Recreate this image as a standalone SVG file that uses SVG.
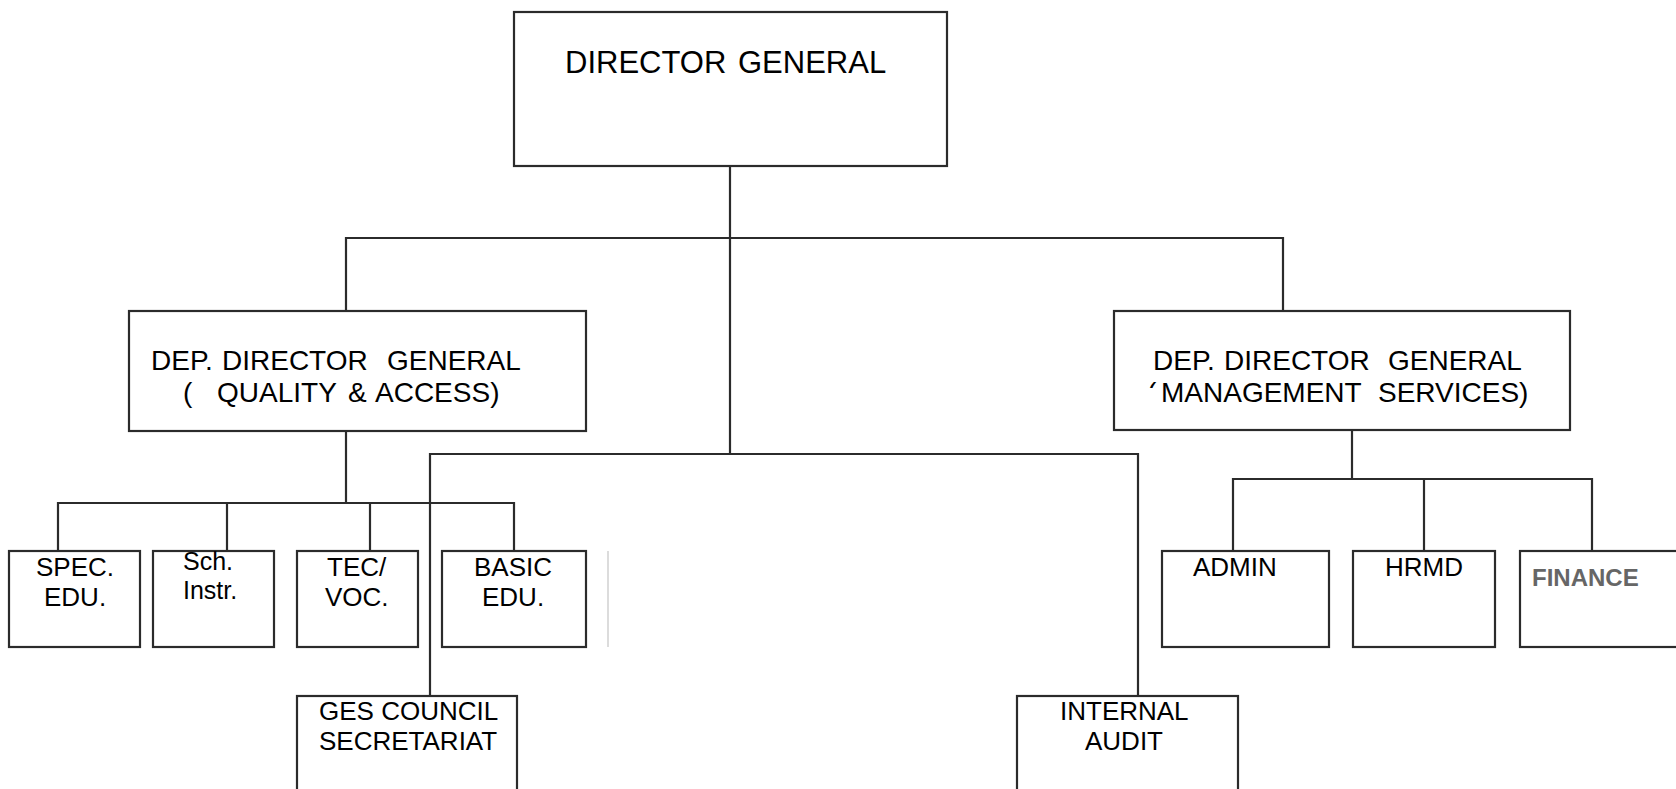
<svg xmlns="http://www.w3.org/2000/svg" width="1676" height="789" viewBox="0 0 1676 789">
<style>
.box{fill:#fff;stroke:#2b2b2b;stroke-width:2.2}
.ln{fill:none;stroke:#2b2b2b;stroke-width:2.2}
.t{font-family:"Liberation Sans",Arial,sans-serif;fill:#000}
.t31{font-size:31px}
.t28{font-size:28px}
.t26{font-size:26px}
.t25{font-size:25px}
.fin{font-family:"Liberation Sans",Arial,sans-serif;font-size:24px;font-weight:bold;fill:#666}
</style>
<defs>
<clipPath id="clipParen"><rect x="1140" y="376" width="20" height="12"/></clipPath>
</defs>
<rect width="1676" height="789" fill="#fff"/>
<g id="connectors">
<path class="ln" d="M730 166V454"/>
<path class="ln" d="M346 310V238H1283V310"/>
<path class="ln" d="M346 431V503"/>
<path class="ln" d="M58 551V503H514V551"/>
<path class="ln" d="M227 503V551"/>
<path class="ln" d="M370 503V551"/>
<path class="ln" d="M430 696V454H1138V696"/>
<path class="ln" d="M1352 431V479"/>
<path class="ln" d="M1233 551V479H1592V551"/>
<path class="ln" d="M1424 479V551"/>
<path d="M608 551V647" stroke="#d0d0d0" stroke-width="1.5"/>
</g>
<g id="dg">
<rect class="box" x="514" y="12" width="433" height="154"/>
<text class="t t31" y="73"><tspan x="565">DIRECTOR</tspan><tspan x="738">GENERAL</tspan></text>
</g>
<g id="ddg-qa">
<rect class="box" x="129" y="311" width="457" height="120"/>
<text class="t t28" y="370"><tspan x="151">DEP.</tspan><tspan x="222">DIRECTOR</tspan><tspan x="387">GENERAL</tspan></text>
<text class="t t28" y="402"><tspan x="183">(</tspan><tspan x="217">QUALITY</tspan><tspan x="348">&amp;</tspan><tspan x="375">ACCESS)</tspan></text>
</g>
<g id="ddg-ms">
<rect class="box" x="1114" y="311" width="456" height="119"/>
<text class="t t28" y="370"><tspan x="1153">DEP.</tspan><tspan x="1224">DIRECTOR</tspan><tspan x="1388">GENERAL</tspan></text>
<text class="t t28" x="1147" y="402" clip-path="url(#clipParen)">(</text>
<text class="t t28" y="402"><tspan x="1161">MANAGEMENT</tspan><tspan x="1378">SERVICES)</tspan></text>
</g>
<g id="spec-edu">
<rect class="box" x="9" y="551" width="131" height="96"/>
<text class="t t26" x="36" y="576">SPEC.</text>
<text class="t t26" x="44" y="606">EDU.</text>
</g>
<g id="sch-instr">
<rect class="box" x="153" y="551" width="121" height="96"/>
<text class="t t25" x="183" y="570">Sch.</text>
<text class="t t25" x="183" y="599">Instr.</text>
</g>
<g id="tec-voc">
<rect class="box" x="297" y="551" width="121" height="96"/>
<text class="t t26" x="327" y="576">TEC/</text>
<text class="t t26" x="325" y="606">VOC.</text>
</g>
<g id="basic-edu">
<rect class="box" x="442" y="551" width="144" height="96"/>
<text class="t t26" x="474" y="576">BASIC</text>
<text class="t t26" x="482" y="606">EDU.</text>
</g>
<g id="admin">
<rect class="box" x="1162" y="551" width="167" height="96"/>
<text class="t t26" x="1193" y="576">ADMIN</text>
</g>
<g id="hrmd">
<rect class="box" x="1353" y="551" width="142" height="96"/>
<text class="t t26" x="1385" y="576">HRMD</text>
</g>
<g id="finance">
<rect class="box" x="1520" y="551" width="170" height="96"/>
<text class="fin" x="1532" y="586">FINANCE</text>
</g>
<g id="ges-council">
<rect class="box" x="297" y="696" width="220" height="110"/>
<text class="t t26" x="319" y="720">GES COUNCIL</text>
<text class="t t26" x="319" y="750">SECRETARIAT</text>
</g>
<g id="internal-audit">
<rect class="box" x="1017" y="696" width="221" height="110"/>
<text class="t t26" x="1060" y="720">INTERNAL</text>
<text class="t t26" x="1085" y="750">AUDIT</text>
</g>
</svg>
